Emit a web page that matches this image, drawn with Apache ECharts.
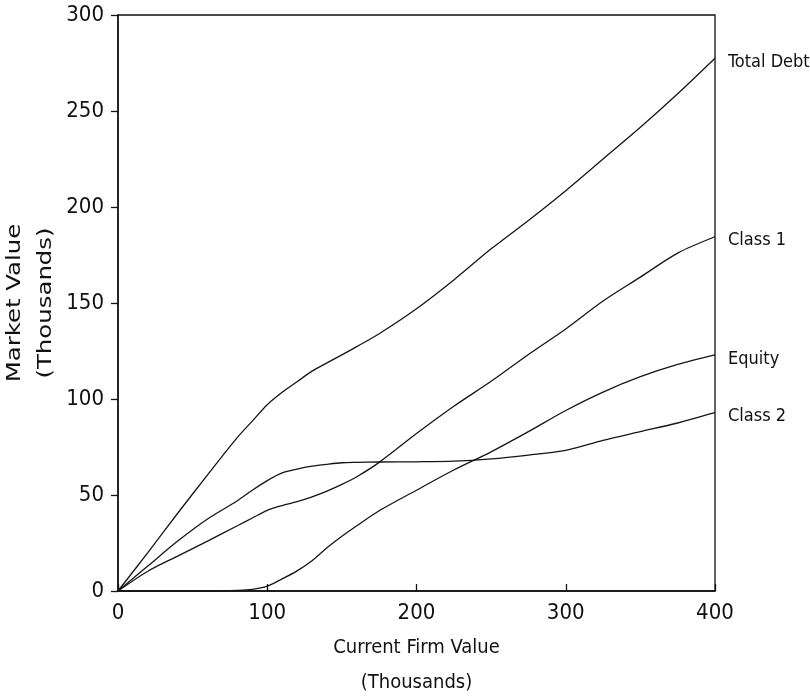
<!DOCTYPE html>
<html>
<head>
<meta charset="utf-8">
<script src="https://cdn.jsdelivr.net/npm/echarts@6/dist/echarts.min.js"></script>
<style>
html,body{margin:0;padding:0;background:#fff;}
#chart{width:810px;height:696px;}
</style>
</head>
<body>
<div id="chart"></div>
<script>
// Current firm value (thousands)
const firmValue = [0, 20, 40, 60, 80, 90, 100, 110, 120, 130, 140, 150, 160, 175, 200, 225, 250, 275, 300, 325, 350, 375, 400];
const totalDebt = [0, 20, 40.5, 60.5, 80, 88.5, 97, 103.5, 109, 114.5, 118.8, 123, 127.3, 134, 147, 162, 178.2, 193, 208.5, 225, 241.5, 259, 277.5];
const class1    = [0, 10.3, 18.2, 26, 34, 38, 42, 44.5, 46.5, 49, 52, 55.5, 59.5, 67, 82, 96.2, 109.2, 123.2, 136.5, 151, 163.5, 176, 184.5];
const equity    = [0, 0, 0, 0, 0.3, 0.8, 2.5, 6.3, 10.5, 15.8, 22.5, 28.5, 34, 41.8, 52.5, 63, 72.5, 83, 94, 103.6, 111.6, 118, 123];
const class2    = [0, 13, 26, 37.5, 47, 52.5, 57.5, 61.5, 63.5, 65, 66, 66.8, 67, 67.2, 67.3, 67.6, 68.8, 70.8, 73.3, 78.5, 83, 87.5, 93];
const xTicks = [0, 100, 200, 300, 400];
const yTicks = [0, 50, 100, 150, 200, 250, 300];

const FONT = 'DejaVu Sans';
const CFONT = 'DejaVu Sans Condensed';
function pairs(ys){ return firmValue.map((x,i)=>[x, ys[i]]); }
function mk(name, ys){
  return {
    name: name, type: 'line', data: pairs(ys), smooth: 0.3,
    showSymbol: false, symbol: 'none',
    lineStyle: {color: '#151515', width: 1.3},
    endLabel: {show: true, formatter: '{a}', color: '#111', fontFamily: CFONT, fontSize: 18, offset: [5, 4]},
    animation: false
  };
}
const chart = echarts.init(document.getElementById('chart'), null, {renderer: 'canvas'});
chart.setOption({
  backgroundColor: '#fff',
  animation: false,
  grid: {left: 118, right: 95, top: 15, bottom: 105, containLabel: false, outerBoundsMode: 'none',
         show: true, borderColor: '#111', borderWidth: 1.3, backgroundColor: 'transparent'},
  xAxis: {
    type: 'value', min: xTicks[0], max: xTicks[xTicks.length-1], interval: 100,
    name: 'Current Firm Value\n(Thousands)', nameLocation: 'middle', nameGap: 39,
    nameTextStyle: {fontFamily: CFONT, fontSize: 20, color: '#111', lineHeight: 35},
    axisLine: {show: true, lineStyle: {color: '#111', width: 1.5}},
    axisTick: {show: true, inside: true, length: 7, lineStyle: {color: '#111', width: 1.3}},
    axisLabel: {fontFamily: CFONT, fontSize: 22, color: '#111', margin: 11},
    splitLine: {show: false}
  },
  yAxis: {
    type: 'value', min: yTicks[0], max: yTicks[yTicks.length-1], interval: 50,
    axisLine: {show: true, lineStyle: {color: '#111', width: 1.5}},
    axisTick: {show: true, inside: false, length: 7, lineStyle: {color: '#111', width: 1.3}},
    axisLabel: {fontFamily: CFONT, fontSize: 22, color: '#111', margin: 14},
    splitLine: {show: false}
  },
  graphic: [{
    type: 'text', x: 30, y: 303, rotation: Math.PI/2, scaleX: 1.22,
    style: {text: 'Market Value\n(Thousands)', fontFamily: FONT, fontSize: 20, fill: '#111', textAlign: 'center', textVerticalAlign: 'middle', lineHeight: 31}
  }],
  series: [mk('Total Debt', totalDebt), mk('Class 1', class1), mk('Equity', equity), mk('Class 2', class2)]
});
</script>
</body>
</html>
